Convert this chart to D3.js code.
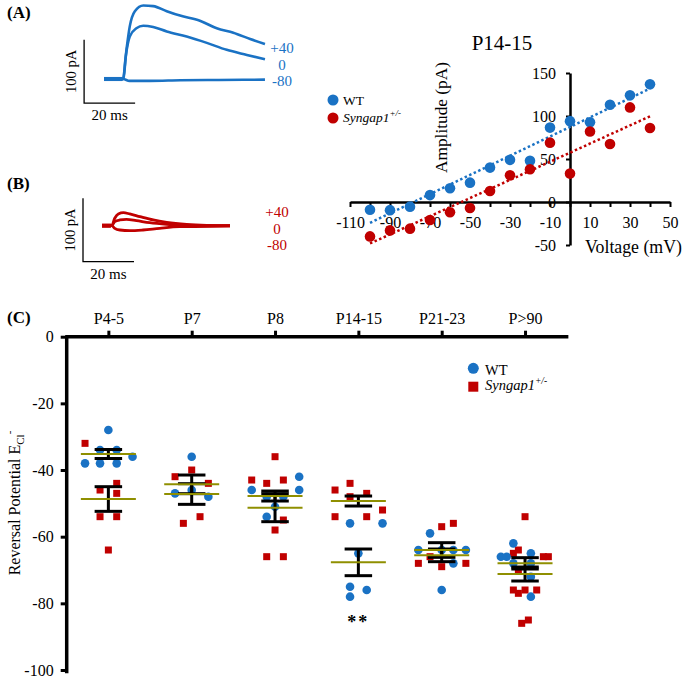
<!DOCTYPE html>
<html><head><meta charset="utf-8">
<script src="https://cdn.jsdelivr.net/npm/d3@7"></script>
<style>
body{margin:0;background:#fff}
svg{display:block;font-family:"Liberation Serif","Times New Roman",serif}
</style>
</head><body>
<svg id="c" width="685" height="681"></svg>
<script>
// ---------- DATA ----------
// Panel A traces (WT), [time ms, current pA]
const traceA_p40 = [[0,0],[7.5,0],[8.8,46],[10.1,83],[12.1,107],[15.4,116],[19.3,115],[24.6,107],[29.8,100],[37.6,92],[44.2,80],[50.7,73],[57.3,63],[63.1,55]];
const traceA_0   = [[0,0],[7.5,0],[8.5,35],[10.1,67],[12.7,80],[15.4,84],[19.3,82],[24.6,75],[32.4,67],[40.3,57],[48.1,46],[56,38],[63.1,31]];
const traceA_m80 = [[0,0],[7.5,0],[10,-3],[18,-3],[30,-2],[45,-1.5],[63.1,-1]];
// Panel B traces (Syngap1+/-)
const traceB_p40 = [[0,0],[3.8,0],[5,11.7],[6.4,18.5],[8.4,20.5],[10.9,18.5],[14.9,14.2],[20.1,9],[25.4,5.4],[33.2,2.2],[41.1,0.6],[50.2,0]];
const traceB_0   = [[0,0],[3.8,0],[5,6.3],[7,9],[9.6,10],[13.5,7.9],[18.7,4.7],[25.4,2.2],[33.2,0.6],[50.2,0]];
const traceB_m80 = [[0,0],[3.8,0],[5,-4.1],[7,-6.8],[10.9,-7.9],[16.1,-6.8],[22.6,-4.1],[30.4,-1.6],[50.2,-0.5]];
const traceLabels = ["+40","0","-80"];
const scaleBarMs = 20, scaleBarPA = 100;

// IV curve P14-15
const ivVoltage = [-100,-90,-80,-70,-60,-50,-40,-30,-20,-10,0,10,20,30,40];
const ivWT      = [-9,-9.5,-5.4,8,16,22.5,40,49,48,86.5,94,92.6,113,124,137];
const ivSyn     = [-40,-33,-31,-21,-12,-7,12.8,31,38,69,33,82,67.5,110,86];
const ivXTicks  = [-110,-100,-90,-80,-70,-60,-50,-40,-30,-20,-10,0,10,20,30,40,50];
const ivYTicks  = [-50,0,50,100,150];

// Panel C reversal potentials, [x position (category index + jitter), E_Cl mV]
const categories = ["P4-5","P7","P8","P14-15","P21-23","P>90"];
const wtPoints = [
  [0.72,-38],[0.9,-34],[0.9,-38],[1,-28],[1.1,-34],[1.1,-38],[1.29,-36],
  [2,-36],[1.8,-47],[2,-46],[2.2,-48],
  [2.72,-46],[3.29,-42],[3.29,-46],[3,-51],[2.9,-54],[2.9,-48],[3.1,-48],
  [3.9,-56],[4.29,-56],[4,-65],[3.9,-75],[4.1,-76],[3.9,-78],
  [4.86,-59],[4.72,-64],[5,-64],[5.14,-64],[5.29,-64],[5.14,-68],[5,-76],
  [5.86,-62],[5.71,-66],[5.78,-66],[6.07,-65],[5.86,-68],[6.07,-68],[6.07,-72],[6.07,-78]
];
const synPoints = [
  [0.72,-32],[1.1,-44],[0.9,-46],[1.1,-47],[0.9,-54],[1.1,-54],[1,-64],
  [2,-40],[1.8,-42],[2.2,-44],[2.1,-54],[1.9,-56],
  [3,-36],[2.72,-43],[2.9,-44],[3.1,-43],[3.1,-55],[3,-58],[2.9,-66],[3.1,-66],
  [3.9,-44],[3.72,-46],[4.1,-47],[3.9,-48],[4.29,-52],[3.72,-54],[4.1,-54],
  [5,-57],[5.14,-56],[4.86,-66],[4.72,-68],[5,-69],[5.29,-68],
  [6,-54],[5.92,-64],[5.86,-65],[6.22,-66],[6.28,-66],[5.92,-70],[5.86,-76],[5.92,-77],[6,-76],[6.14,-76],[6.04,-85],[5.96,-86]
];
const wtMean  = [-35.2,-44.3,-47.8,-67.7,-65.6,-68.0];
const wtSem   = [1.35,2.8,1.5,4.0,1.9,1.7];
const synMean = [-48.7,-47.2,-51.3,-49.3,-64.0,-71.2];
const synSem  = [3.7,3.1,4.2,1.5,2.2,2.1];
const cYTicks = [0,-20,-40,-60,-80,-100];

// ---------- DRAW ----------
const BLUE="#1a72c4", RED="#c00000", OLIVE="#8f8f00";
const svg = d3.select("#c");

function panelLabel(txt,x,y){
  svg.append("text").attr("x",x).attr("y",y).attr("font-size",17).attr("font-weight","bold").text(txt);
}
panelLabel("(A)",7,18);
panelLabel("(B)",7,189);
panelLabel("(C)",7,323);

function tracePanel(traces,color,xs,ys,barT0,barP0,labelX,labelYs,width,noiseEnd){
  const g = svg.append("g");
  const ln = d3.line().x(d=>xs(d[0])).y(d=>ys(d[1])).curve(d3.curveMonotoneX);
  traces.forEach(t=>{
    g.append("path").attr("d",ln(t)).attr("fill","none").attr("stroke",color)
      .attr("stroke-width",width).attr("stroke-linejoin","round");
  });
  // thicker noisy baseline before the stimulus
  g.append("path").attr("d",ln([[0,0],[noiseEnd,0]])).attr("stroke",color).attr("stroke-width",width+1.5);
  // scale bars
  g.append("path").attr("d",
    `M${xs(barT0)},${ys(barP0+scaleBarPA)}V${ys(barP0)}H${xs(barT0+scaleBarMs)}`)
    .attr("fill","none").attr("stroke","#000").attr("stroke-width",1.3);
  g.append("text").attr("transform",`translate(${xs(barT0)-8},${(ys(barP0)+ys(barP0+scaleBarPA))/2}) rotate(-90)`)
    .attr("text-anchor","middle").attr("font-size",14.5).text(scaleBarPA+" pA");
  g.append("text").attr("x",(xs(barT0)+xs(barT0+scaleBarMs))/2).attr("y",ys(barP0)+17)
    .attr("text-anchor","middle").attr("font-size",15).text(scaleBarMs+" ms");
  traceLabels.forEach((l,i)=>{
    g.append("text").attr("x",labelX).attr("y",labelYs[i]).attr("text-anchor","middle")
      .attr("font-size",15).attr("fill",color).text(l);
  });
}
const xA = d3.scaleLinear().domain([0,63]).range([104,264.7]);
const yA = d3.scaleLinear().domain([0,100]).range([79,15.6]);
tracePanel([traceA_m80,traceA_0,traceA_p40],BLUE,xA,yA,-7.8,-38,282,[53,70,86],2.6,7.3);
const xB = d3.scaleLinear().domain([0,50]).range([102,229.5]);
const yB = d3.scaleLinear().domain([0,100]).range([225.7,162.3]);
tracePanel([traceB_m80,traceB_0,traceB_p40],RED,xB,yB,-7.45,-56.8,277,[216.5,234,250],2.8,3.5);

// ----- IV plot -----
const xIV = d3.scaleLinear().domain([-110,50]).range([350,670]);
const yIV = d3.scaleLinear().domain([-50,150]).range([245,73]);
const iv = svg.append("g");
iv.append("text").attr("x",502).attr("y",50).attr("text-anchor","middle").attr("font-size",21).text("P14-15");
const ivXAxis = d3.axisBottom(xIV).tickValues(ivXTicks).tickSize(5).tickSizeOuter(0).tickPadding(10)
  .tickFormat(d=> (d===0||((d+110)%20!==0)) ? "" : String(d));
const gx = iv.append("g").attr("transform",`translate(0,${yIV(0)})`).call(ivXAxis);
const ivYAxis = d3.axisLeft(yIV).tickValues(ivYTicks).tickSize(4).tickSizeOuter(0).tickPadding(10)
  .tickFormat(d=>String(d));
const gy = iv.append("g").attr("transform",`translate(${xIV(0)},0)`).call(ivYAxis);
[gx,gy].forEach(g=>{
  g.select(".domain").attr("stroke","#000").attr("stroke-width",2.5);
  g.selectAll(".tick line").attr("stroke","#000").attr("stroke-width",2);
  g.selectAll("text").attr("font-size",16).attr("fill","#000").attr("font-family","Liberation Serif, serif");
});
iv.append("text").attr("transform",`translate(447,117.5) rotate(-90)`).attr("text-anchor","middle")
  .attr("font-size",17.3).text("Amplitude (pA)");
iv.append("text").attr("x",585).attr("y",253).attr("font-size",17.8).text("Voltage (mV)");
// least-squares trend lines
function fit(xs,ys){
  const mx=d3.mean(xs), my=d3.mean(ys);
  let sxy=0,sxx=0; xs.forEach((x,i)=>{sxy+=(x-mx)*(ys[i]-my); sxx+=(x-mx)*(x-mx);});
  const b=sxy/sxx, a=my-b*mx; return x=>a+b*x;
}
[[ivWT,BLUE],[ivSyn,RED]].forEach(([vals,col])=>{
  const f = fit(ivVoltage,vals);
  const x0=d3.min(ivVoltage), x1=d3.max(ivVoltage);
  iv.append("line").attr("x1",xIV(x0)).attr("y1",yIV(f(x0))).attr("x2",xIV(x1)).attr("y2",yIV(f(x1)))
    .attr("stroke",col).attr("stroke-width",2.5).attr("stroke-dasharray","2.5,2.5");
});
[[ivWT,BLUE],[ivSyn,RED]].forEach(([vals,col])=>{
  iv.selectAll(null).data(ivVoltage.map((v,i)=>[v,vals[i]])).enter().append("circle")
    .attr("cx",d=>xIV(d[0])).attr("cy",d=>yIV(d[1])).attr("r",5.3).attr("fill",col);
});
// IV legend
iv.append("circle").attr("cx",333).attr("cy",100).attr("r",5.5).attr("fill",BLUE);
iv.append("text").attr("x",343).attr("y",105).attr("font-size",13.5).text("WT");
iv.append("circle").attr("cx",333).attr("cy",118).attr("r",5.5).attr("fill",RED);
const ivl = iv.append("text").attr("x",343).attr("y",122).attr("font-size",13.5);
ivl.append("tspan").attr("font-style","italic").text("Syngap1");
ivl.append("tspan").attr("font-size",9).attr("dy",-6).attr("font-style","italic").text("+/-");

// ----- Panel C -----
const xC = d3.scaleLinear().domain([0.5,6.5]).range([66.7,566.7]);
const yC = d3.scaleLinear().domain([0,-100]).range([336.7,670]);
const pc = svg.append("g");
const cx = pc.append("g").attr("transform",`translate(0,${yC(0)})`)
  .call(d3.axisTop(xC).tickValues([1,2,3,4,5,6]).tickSize(6).tickSizeOuter(0).tickPadding(7)
  .tickFormat(d=>categories[d-1]));
const cy = pc.append("g").attr("transform",`translate(${xC(0.5)},0)`)
  .call(d3.axisLeft(yC).tickValues(cYTicks).tickSize(6).tickSizeOuter(0).tickPadding(7).tickFormat(d=>String(d)));
[cx,cy].forEach(g=>{
  g.select(".domain").attr("stroke","#000").attr("stroke-width",3.5);
  g.selectAll(".tick line").attr("stroke","#000").attr("stroke-width",3);
  g.selectAll("text").attr("font-size",16).attr("fill","#000").attr("font-family","Liberation Serif, serif");
});
cx.select(".domain").attr("d",`M${xC(0.5)-1.5},0H${xC(6.52)}`);
cy.select(".domain").attr("d",`M0,${yC(0)}V${yC(-101)}`);
// y title
const yt = pc.append("text").attr("transform",`translate(20,503) rotate(-90)`).attr("text-anchor","middle").attr("font-size",16);
yt.append("tspan").text("Reversal Potential E");
yt.append("tspan").attr("font-size",11).attr("dy",4).text("Cl");
yt.append("tspan").attr("font-size",11).attr("dy",-11).text("-");

// points
const sq = 7;
pc.selectAll(null).data(synPoints).enter().append("rect")
  .attr("x",d=>xC(d[0])-sq/2).attr("y",d=>yC(d[1])-sq/2).attr("width",sq).attr("height",sq).attr("fill",RED);
pc.selectAll(null).data(wtPoints).enter().append("circle")
  .attr("cx",d=>xC(d[0])).attr("cy",d=>yC(d[1])).attr("r",4.3).attr("fill",BLUE);
// error bars + mean lines
function stats(means,sems){
  means.forEach((m,i)=>{
    const c=i+1;
    pc.append("line").attr("x1",xC(c)).attr("x2",xC(c)).attr("y1",yC(m+sems[i])).attr("y2",yC(m-sems[i]))
      .attr("stroke","#000").attr("stroke-width",3);
    [m+sems[i],m-sems[i]].forEach(v=>{
      pc.append("line").attr("x1",xC(c-0.165)).attr("x2",xC(c+0.165)).attr("y1",yC(v)).attr("y2",yC(v))
        .attr("stroke","#000").attr("stroke-width",3);
    });
  });
}
function meanLines(means){
  means.forEach((m,i)=>{
    const c=i+1;
    pc.append("line").attr("x1",xC(c-0.33)).attr("x2",xC(c+0.33)).attr("y1",yC(m)).attr("y2",yC(m))
      .attr("stroke",OLIVE).attr("stroke-width",2);
  });
}
stats(wtMean,wtSem); stats(synMean,synSem);
meanLines(wtMean); meanLines(synMean);
pc.append("text").attr("x",xC(4)).attr("y",628).attr("text-anchor","middle").attr("font-size",18)
  .attr("font-weight","bold").attr("letter-spacing",2).text("**");
// legend C
pc.append("circle").attr("cx",473.3).attr("cy",368.3).attr("r",5.5).attr("fill",BLUE);
pc.append("text").attr("x",485).attr("y",375).attr("font-size",14.5).text("WT");
pc.append("rect").attr("x",468.3).attr("y",381.7).attr("width",10).attr("height",10).attr("fill",RED);
const cl = pc.append("text").attr("x",485).attr("y",390).attr("font-size",14.5);
cl.append("tspan").attr("font-style","italic").text("Syngap1");
cl.append("tspan").attr("font-size",9.5).attr("dy",-6).attr("font-style","italic").text("+/-");
</script>
</body></html>
